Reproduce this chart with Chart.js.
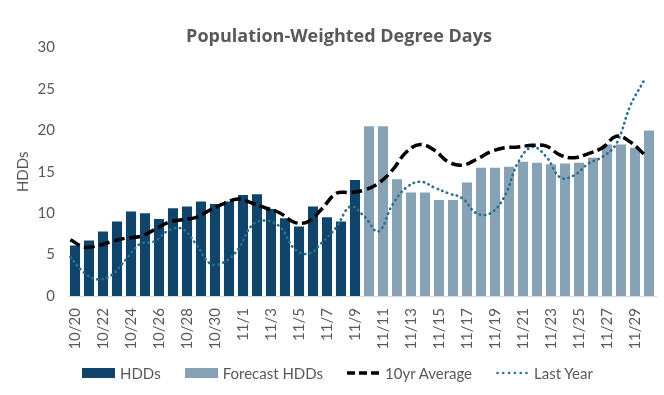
<!DOCTYPE html>
<html>
<head>
<meta charset="utf-8">
<title>Population-Weighted Degree Days</title>
<script src="https://cdn.jsdelivr.net/npm/chart.js@4/dist/chart.umd.min.js"></script>
<style>
  html, body { margin: 0; padding: 0; background: #fff; }
  #wrap { position: relative; width: 664px; height: 395px; }
  #legend {
    position: absolute; left: 82px; top: 364px; height: 18px;
    display: flex; align-items: center; gap: 24px;
    font: 15px Lato, "Open Sans", sans-serif; color: #595959; white-space: nowrap;
  }
  #legend .item { display: flex; align-items: center; gap: 5px; }
  #legend .box { width: 33px; height: 10px; }
  #legend canvas { display: block; }
</style>
</head>
<body>
<div id="wrap">
  <canvas id="chart" width="664" height="395"></canvas>
  <div id="legend"></div>
</div>
<script>
/* Population-weighted HDDs: observed + forecast bars, 10yr average and last year lines */

const DATES = [
  "10/20","10/21","10/22","10/23","10/24","10/25","10/26","10/27","10/28","10/29","10/30","10/31",
  "11/1","11/2","11/3","11/4","11/5","11/6","11/7","11/8","11/9","11/10","11/11","11/12","11/13",
  "11/14","11/15","11/16","11/17","11/18","11/19","11/20","11/21","11/22","11/23","11/24","11/25",
  "11/26","11/27","11/28","11/29","11/30"
];
// observed 10/20 - 11/9
const HDD_ACTUAL = [6.1, 6.7, 7.8, 9.0, 10.2, 10.0, 9.3, 10.6, 10.8, 11.4, 11.1, 11.4,
  12.2, 12.3, 10.5, 9.4, 8.4, 10.8, 9.5, 9.0, 14.0];
// forecast 11/10 - 11/30
const HDD_FORECAST = [20.5, 20.5, 14.1, 12.5, 12.5, 11.6, 11.6, 13.7, 15.5, 15.5, 15.6,
  16.2, 16.1, 15.9, 16.0, 16.1, 16.7, 18.3, 18.3, 17.9, 20.0];
const AVG_10YR = [6.8, 5.9, 6.1, 6.6, 7.0, 7.2, 8.0, 8.9, 9.2, 9.5, 10.4, 11.2, 11.7, 11.2,
  10.6, 10.0, 8.9, 9.0, 10.6, 12.4, 12.5, 12.8, 13.6, 15.2, 17.4, 18.3, 17.6, 16.2, 15.8,
  16.5, 17.4, 17.9, 18.0, 18.2, 18.1, 17.0, 16.7, 17.2, 17.9, 19.3, 18.6, 17.1];
const LAST_YEAR = [4.7, 2.8, 2.0, 2.6, 4.5, 6.3, 6.6, 7.9, 8.1, 6.2, 3.9, 4.1, 5.7, 8.6,
  9.1, 8.3, 5.7, 5.1, 6.5, 8.3, 10.8, 9.6, 7.8, 11.0, 13.1, 13.8, 13.1, 12.4, 11.8, 10.0,
  10.0, 12.0, 16.2, 18.0, 16.8, 14.3, 14.6, 16.0, 16.8, 18.4, 23.0, 26.1];
const Y_MIN = 0, Y_MAX = 30, Y_STEP = 5;

const C = {
  navy: "#10446A", forecast: "#87A2B4", avg: "#000000", last: "#2B6F93",
  text: "#595959", axis: "#D9D9D9",
};
const FONT = "Lato, 'Open Sans', sans-serif";

// lines sit a little left of the bar centres in the original
const LINE_SHIFT = 0.33;

const pad = (n) => Array(n).fill(null);
const xy = (arr) => arr.map((y, i) => ({ x: i, y }));

const chart = new Chart(document.getElementById("chart"), {
  type: "bar",
  data: {
    labels: DATES,
    datasets: [
      { label: "HDDs", data: HDD_ACTUAL.concat(pad(HDD_FORECAST.length)), backgroundColor: C.navy,
        grouped: false, barPercentage: 0.72, categoryPercentage: 1, order: 2 },
      { label: "Forecast HDDs", data: pad(HDD_ACTUAL.length).concat(HDD_FORECAST), backgroundColor: C.forecast,
        grouped: false, barPercentage: 0.72, categoryPercentage: 1, order: 2 },
      { type: "line", label: "10yr Average", data: xy(AVG_10YR), xAxisID: "x2", borderColor: C.avg,
        borderWidth: 3.5, borderDash: [11, 4.5], pointRadius: 0, tension: 0.4, order: 0 },
      { type: "line", label: "Last Year", data: xy(LAST_YEAR), xAxisID: "x2", borderColor: C.last,
        borderWidth: 2.6, borderDash: [0.5, 4.6], borderCapStyle: "round", pointRadius: 0, tension: 0.4, order: 1 },
    ],
  },
  options: {
    responsive: false, animation: false, devicePixelRatio: 1,
    layout: { padding: { left: 22, right: 8, top: 0, bottom: 34 } },
    plugins: {
      tooltip: { enabled: false },
      legend: { display: false },
      title: {
        display: true, text: "Population-Weighted Degree Days", color: C.text,
        font: { family: "'Open Sans', sans-serif", size: 18, weight: "bold" },
        padding: { top: 26, bottom: 0 },
      },
    },
    scales: {
      x: {
        type: "category", offset: true,
        grid: { display: false, drawTicks: false },
        border: { display: true, color: C.axis, width: 1 },
        ticks: {
          autoSkip: false, minRotation: 90, maxRotation: 90, padding: 12, color: C.text,
          font: { family: FONT, size: 15 },
          callback(v, i) { return i % 2 === 0 ? this.getLabelForValue(v) : ""; },
        },
        afterFit(s) { s.height = 65; s.paddingLeft = 0; s.paddingRight = 0; },
      },
      // invisible helper axis for the two lines, same width as the plot
      x2: {
        type: "linear", position: "top", bounds: "data", offset: false,
        min: -0.5 + LINE_SHIFT, max: DATES.length - 0.5 + LINE_SHIFT,
        ticks: { display: false },
        grid: { display: false, drawTicks: false, offset: false },
        border: { display: false },
        afterFit(s) { s.height = 0; s.paddingLeft = 0; s.paddingRight = 0; },
      },
      y: {
        min: Y_MIN, max: Y_MAX,
        grid: { display: false, drawTicks: false },
        border: { display: false },
        ticks: { stepSize: Y_STEP, padding: 13, color: C.text, font: { family: FONT, size: 15 } },
        title: { display: true, text: "HDDs", color: C.text, font: { family: FONT, size: 15 }, padding: { top: -8, bottom: 0 } },
        afterFit(s) { s.width = 46; },
      },
    },
  },
});

/* ---------- legend (HTML, same order as datasets) ---------- */
function lineSwatch(draw) {
  const c = document.createElement("canvas");
  c.width = 33; c.height = 8;
  draw(c.getContext("2d"));
  return c;
}
const legendMarks = [
  () => Object.assign(document.createElement("span"), { className: "box", style: `background:${C.navy}` }),
  () => Object.assign(document.createElement("span"), { className: "box", style: `background:${C.forecast}` }),
  () => lineSwatch((g) => {
    g.strokeStyle = C.avg; g.lineWidth = 3.5; g.setLineDash([8, 4]);
    g.beginPath(); g.moveTo(0, 4); g.lineTo(32, 4); g.stroke();
  }),
  () => lineSwatch((g) => {
    g.fillStyle = C.last;
    for (let k = 0; k < 6; k++) { g.beginPath(); g.arc(1.5 + k * 5.8, 4, 1.3, 0, Math.PI * 2); g.fill(); }
  }),
];
const legendEl = document.getElementById("legend");
chart.data.datasets.forEach((d, i) => {
  const item = document.createElement("span");
  item.className = "item";
  item.appendChild(legendMarks[i]());
  const t = document.createElement("span");
  t.textContent = d.label;
  item.appendChild(t);
  legendEl.appendChild(item);
});
</script>
</body>
</html>
